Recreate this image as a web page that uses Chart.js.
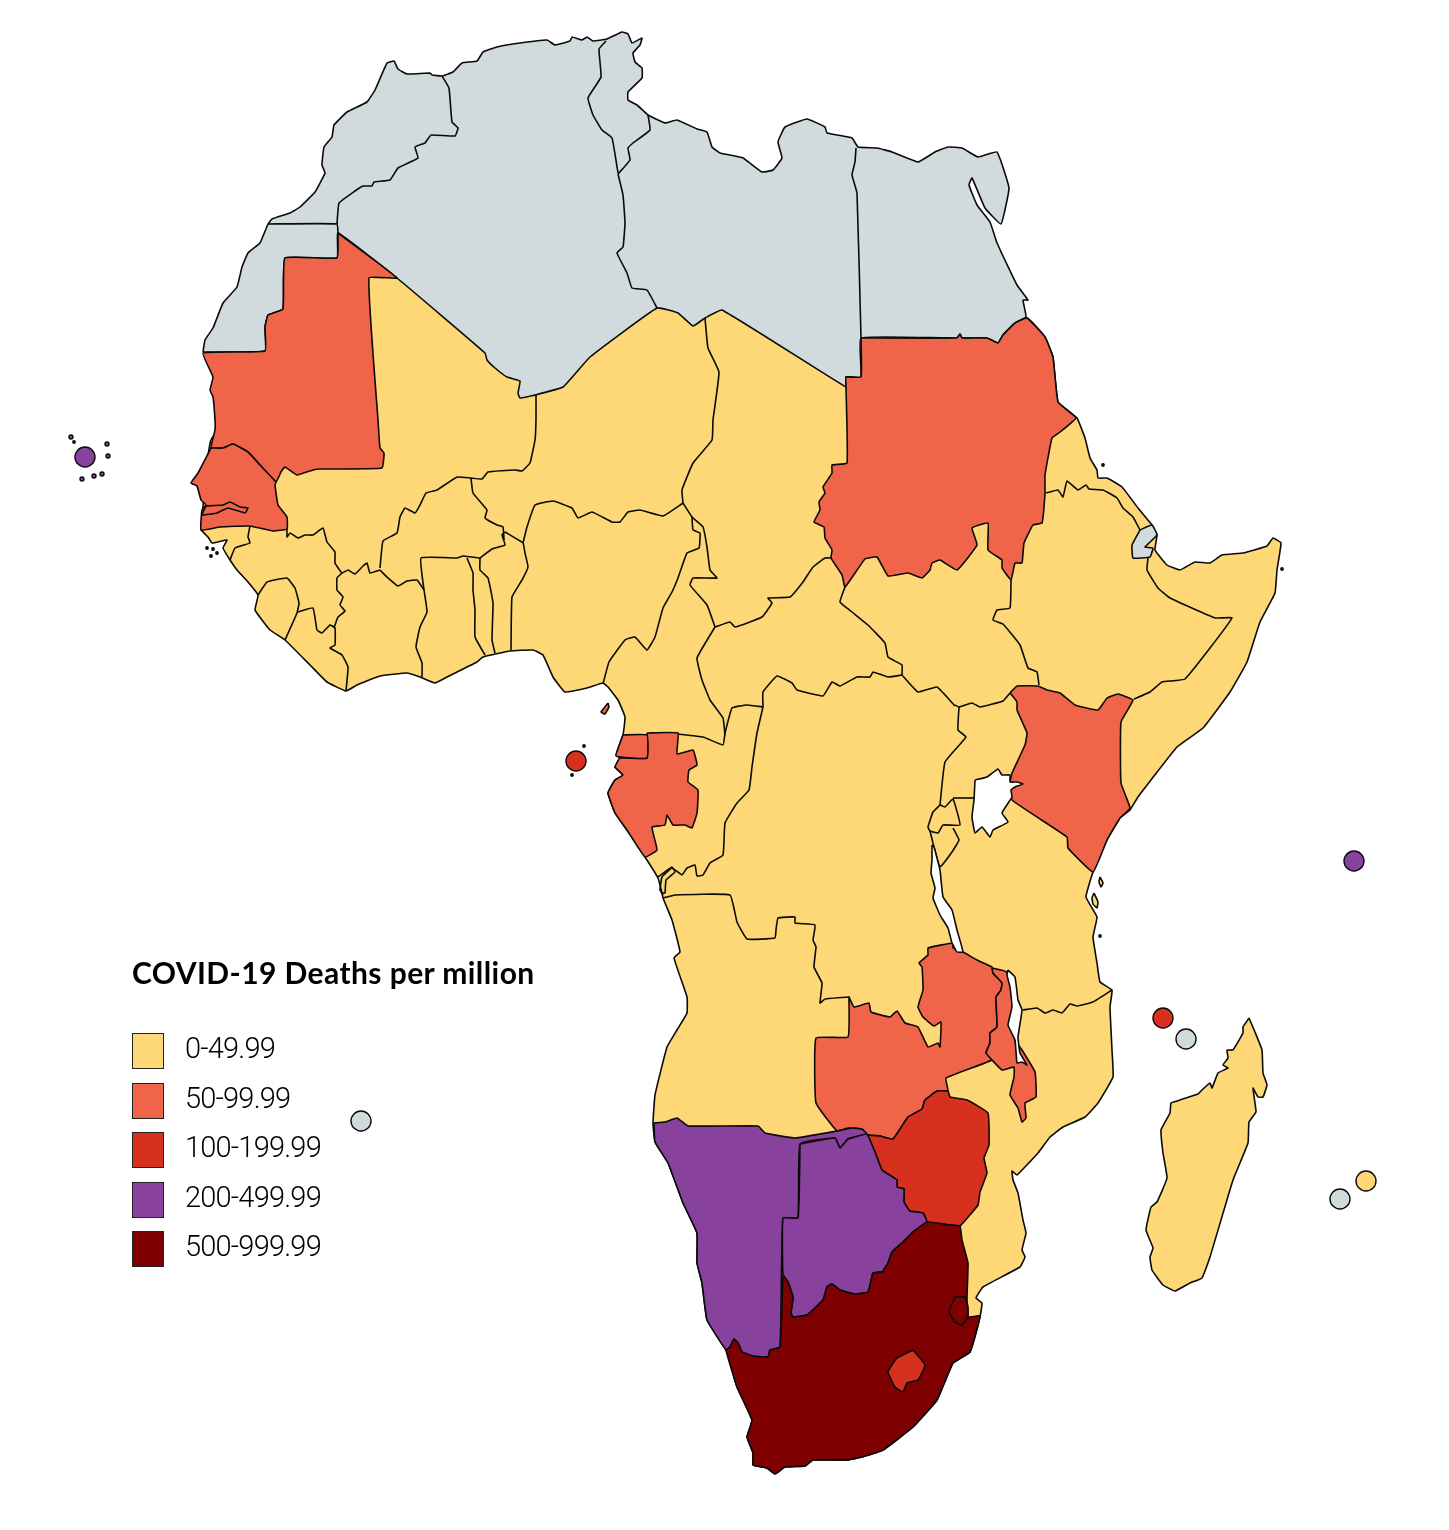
<!DOCTYPE html>
<html>
<head>
<meta charset="utf-8">
<title>COVID-19 Deaths per million</title>
<script src="https://cdn.jsdelivr.net/npm/chart.js@4"></script>
<style>
html, body { margin: 0; background: #fff; }
#wrap { position: relative; width: 1449px; height: 1530px; overflow: hidden; }
#map { position: absolute; left: 0; top: 0; }
#legend { position: absolute; left: 132px; top: 952px; color: #000; }
#legend h1 { margin: 0 0 41px; font-family: Lato, sans-serif; font-size: 30px; line-height: 40px; font-weight: 700; letter-spacing: 0.42px; white-space: nowrap; }
#legend .row { position: relative; height: 49.6px; }
#legend .box { position: absolute; left: 0; top: 0; width: 30px; height: 34px; border: 1px solid #222; }
#legend .txt { position: absolute; left: 53px; top: -3px; font-family: Roboto, sans-serif; font-size: 29px; line-height: 36px; font-weight: 300; letter-spacing: -0.8px; white-space: nowrap; }
</style>
</head>
<body>
<div id="wrap">
  <canvas id="map" width="1449" height="1530"></canvas>
  <div id="legend"></div>
</div>
<script>
// legend classes
var legendTitle = 'COVID-19 Deaths per million';
var bandLabels = ['0-49.99', '50-99.99', '100-199.99', '200-499.99', '500-999.99'];
var bandColors = ['#fed876', '#f0654a', '#d7301f', '#88419d', '#7f0000'];
var noData = '#d1dadd';

// outlines
var mainland = [[201,530],[208,537],[212,543],[227,540],[223,548],[230,560],[237,570],[248,582],[258,595],[255,610],[262,620],[270,630],[285,640],[310,665],[327,682],[346,691],[357,685],[380,676],[407,673],[420,677],[435,683],[447,677],[477,662],[483,657],[510,651],[533,650],[543,655],[553,677],[565,692],[587,688],[603,683],[608,687],[618,700],[625,717],[623,735],[616,755],[620,758],[615,767],[623,775],[615,780],[608,793],[615,813],[627,830],[645,857],[658,878],[662,893],[663,898],[672,920],[680,952],[674,958],[687,997],[687,1013],[677,1030],[667,1047],[655,1095],[653,1123],[655,1142],[668,1163],[683,1203],[697,1233],[697,1263],[702,1283],[707,1320],[726,1350],[737,1387],[752,1420],[747,1437],[753,1453],[753,1465],[767,1468],[775,1474],[785,1467],[805,1466],[813,1460],[847,1460],[862,1457],[883,1450],[913,1427],[937,1400],[953,1363],[970,1352],[980,1317],[982,1303],[976,1298],[983,1287],[1020,1267],[1025,1257],[1022,1250],[1026,1233],[1023,1220],[1018,1193],[1013,1180],[1012,1171],[1017,1175],[1038,1153],[1050,1137],[1063,1127],[1085,1117],[1098,1103],[1113,1077],[1112,1050],[1110,1007],[1112,990],[1100,982],[1097,963],[1093,937],[1097,917],[1086,897],[1093,872],[1107,840],[1120,818],[1130,810],[1138,797],[1177,747],[1203,728],[1230,692],[1247,662],[1260,622],[1275,593],[1277,570],[1281,543],[1273,538],[1267,546],[1243,553],[1222,555],[1210,563],[1195,562],[1180,570],[1167,565],[1155,550],[1157,535],[1152,525],[1138,508],[1122,487],[1107,478],[1098,478],[1097,470],[1090,458],[1085,438],[1077,418],[1058,402],[1053,357],[1045,337],[1027,318],[900,340],[830,360],[722,300],[657,300],[450,300],[350,260],[300,330],[211,440]];
var northAfrica = [[203,352],[205,340],[213,328],[223,303],[237,287],[242,267],[248,253],[260,243],[268,224],[272,219],[290,213],[300,207],[315,192],[325,173],[322,165],[324,147],[332,137],[334,125],[347,112],[367,102],[375,90],[387,63],[394,61],[398,69],[407,74],[430,73],[432,75],[442,76],[453,72],[462,63],[477,61],[483,52],[497,47],[520,43],[547,40],[555,45],[570,41],[572,37],[582,40],[587,37],[593,41],[607,39],[622,32],[628,34],[632,43],[642,38],[640,45],[633,53],[635,62],[642,68],[642,78],[628,92],[628,100],[637,105],[648,115],[665,123],[677,120],[697,129],[707,132],[712,147],[720,153],[743,158],[762,172],[773,170],[782,158],[778,142],[785,127],[807,119],[825,127],[827,133],[852,138],[858,147],[877,148],[892,152],[918,162],[935,152],[948,147],[962,148],[978,157],[997,152],[1009,188],[1001,224],[985,208],[972,178],[969,185],[977,205],[990,222],[997,243],[1017,285],[1028,300],[1023,300],[1026,317],[1015,323],[1003,335],[998,343],[987,338],[962,338],[960,334],[957,338],[861,338],[861,377],[846,377],[846,387],[722,310],[705,318],[693,326],[678,313],[657,308],[590,357],[563,387],[535,395],[520,398],[518,393],[520,381],[507,377],[495,368],[487,360],[485,353],[397,278],[338,233],[337,258],[285,258],[283,309],[268,315],[265,327],[265,351]];
var djibouti = [[1140,530],[1152,525],[1157,535],[1145,547],[1153,548],[1150,557],[1133,558],[1132,545]];
var mauritania = [[338,233],[397,278],[369,278],[378,420],[380,448],[384,453],[382,468],[320,469],[313,470],[297,475],[285,467],[281,472],[276,482],[260,465],[248,452],[233,444],[223,448],[211,448],[215,430],[215,420],[213,397],[210,390],[213,377],[203,353],[265,351],[265,327],[268,315],[283,309],[285,258],[337,258]];
var senegal = [[211,448],[198,473],[191,483],[197,486],[201,500],[206,505],[202,510],[201,530],[220,527],[250,526],[273,531],[287,529],[287,517],[278,505],[275,485],[276,482],[260,465],[248,452],[233,444],[223,448]];
var gambia = [[206,506],[223,505],[230,502],[240,507],[248,508],[245,513],[228,508],[217,513],[202,515]];
var sudan = [[861,338],[957,338],[960,334],[962,338],[987,338],[998,343],[1003,335],[1015,323],[1027,318],[1045,337],[1053,357],[1058,402],[1076,418],[1060,432],[1052,438],[1045,475],[1045,493],[1042,523],[1033,525],[1024,543],[1022,563],[1015,563],[1011,580],[1002,568],[1002,560],[988,550],[988,523],[972,528],[977,545],[957,570],[940,560],[932,563],[930,570],[922,578],[908,573],[888,576],[877,557],[865,559],[845,587],[842,575],[831,558],[832,550],[825,538],[824,527],[814,522],[820,510],[819,502],[825,493],[823,487],[832,473],[832,465],[847,463],[846,387],[846,377],[861,377]];
var kenya = [[1010,693],[1017,686],[1038,686],[1047,690],[1060,693],[1075,705],[1098,710],[1107,698],[1118,694],[1133,700],[1121,722],[1121,783],[1130,808],[1120,818],[1107,840],[1093,872],[1068,848],[1067,837],[1012,800],[1010,782],[1012,773],[1025,745],[1027,733],[1017,710],[1017,702]];
var gabon = [[647,733],[678,733],[677,754],[693,750],[697,765],[689,770],[688,782],[698,790],[697,813],[692,828],[685,825],[673,825],[667,815],[665,825],[652,827],[657,850],[645,857],[627,830],[615,813],[608,793],[615,780],[623,775],[615,767],[620,758],[647,758]];
var eqGuinea = [[623,735],[647,735],[647,758],[616,756]];
var bioko = [[608,703],[609,707],[605,714],[601,712]];
var zambia = [[849,997],[854,1007],[869,1003],[871,1012],[890,1017],[897,1011],[905,1023],[918,1027],[928,1047],[938,1043],[940,1047],[941,1022],[934,1026],[923,1017],[918,1007],[923,990],[922,967],[919,963],[928,955],[928,948],[953,943],[953,948],[963,952],[977,960],[992,967],[993,973],[1002,983],[1001,990],[996,997],[997,1027],[990,1033],[990,1043],[986,1053],[992,1060],[946,1078],[948,1091],[937,1091],[925,1100],[922,1109],[908,1117],[893,1139],[880,1136],[865,1135],[860,1129],[848,1128],[837,1131],[816,1103],[816,1038],[848,1037]];
var malawi = [[992,968],[1007,972],[1015,1000],[1015,1040],[1022,1050],[1035,1072],[1036,1097],[1025,1103],[1026,1118],[1022,1122],[1018,1108],[1010,1095],[1014,1077],[1014,1067],[1002,1070],[992,1060],[986,1053],[990,1043],[990,1033],[997,1027],[996,997],[1001,990],[1002,983],[993,973]];
var zimbabwe = [[865,1135],[880,1136],[893,1139],[908,1117],[922,1109],[925,1100],[937,1091],[948,1091],[950,1097],[967,1100],[988,1113],[989,1145],[984,1158],[987,1173],[980,1192],[978,1205],[960,1226],[950,1225],[927,1222],[923,1213],[910,1211],[904,1202],[904,1189],[897,1187],[897,1180],[882,1170],[875,1152]];
var lesotho = [[913,1350],[925,1365],[918,1380],[907,1383],[903,1392],[895,1387],[888,1372],[897,1358]];
var namibia = [[654,1123],[665,1122],[677,1118],[688,1126],[758,1126],[765,1133],[795,1138],[837,1131],[852,1128],[862,1129],[867,1134],[855,1137],[848,1139],[840,1148],[835,1138],[800,1144],[798,1218],[783,1218],[780,1347],[770,1350],[768,1357],[753,1356],[742,1352],[738,1343],[734,1339],[730,1347],[726,1350],[707,1320],[702,1283],[697,1263],[697,1233],[683,1203],[668,1163],[655,1142]];
var botswana = [[800,1144],[835,1138],[840,1148],[848,1139],[855,1137],[867,1134],[875,1152],[882,1170],[897,1180],[897,1187],[904,1189],[904,1202],[910,1211],[923,1213],[927,1222],[913,1232],[903,1242],[892,1252],[888,1263],[882,1272],[873,1273],[868,1292],[855,1294],[840,1290],[832,1284],[827,1287],[823,1300],[807,1315],[793,1317],[791,1313],[793,1297],[788,1282],[783,1275],[783,1218],[798,1218]];
var southAfrica = [[783,1275],[788,1282],[793,1297],[791,1313],[793,1317],[807,1315],[823,1300],[827,1287],[832,1284],[840,1290],[855,1294],[868,1292],[873,1273],[882,1272],[888,1263],[892,1252],[903,1242],[913,1232],[927,1222],[950,1225],[960,1226],[962,1240],[968,1263],[967,1298],[968,1317],[980,1316],[970,1352],[953,1363],[937,1400],[913,1427],[883,1450],[862,1457],[847,1460],[813,1460],[805,1466],[785,1467],[775,1474],[767,1468],[753,1465],[753,1453],[747,1437],[752,1420],[737,1387],[726,1350],[730,1347],[734,1339],[738,1343],[742,1352],[753,1356],[768,1357],[770,1350],[780,1347]];
var eswatini = [[955,1297],[965,1297],[968,1307],[968,1317],[962,1325],[955,1322],[949,1312]];
var madagascar = [[1249,1018],[1255,1032],[1262,1050],[1263,1073],[1267,1085],[1263,1097],[1258,1097],[1253,1088],[1255,1103],[1256,1112],[1249,1122],[1248,1143],[1233,1180],[1210,1257],[1202,1278],[1190,1283],[1175,1291],[1163,1285],[1152,1270],[1150,1257],[1153,1248],[1146,1230],[1151,1207],[1157,1202],[1167,1178],[1163,1153],[1161,1130],[1170,1113],[1171,1103],[1180,1100],[1198,1094],[1202,1090],[1210,1083],[1212,1088],[1218,1073],[1228,1068],[1223,1065],[1228,1058],[1227,1050],[1233,1050],[1243,1033],[1243,1027]];
var pemba = [[1100,877],[1103,883],[1101,887],[1099,882]];
var zanzibar = [[1094,893],[1098,902],[1097,908],[1093,904],[1092,898]];

// lakes
var lakeVictoria = [[975,780],[987,777],[998,769],[1002,775],[1010,775],[1010,782],[1017,782],[1023,784],[1015,787],[1011,790],[1012,797],[1002,813],[1008,822],[993,830],[990,837],[982,827],[975,833],[972,817],[974,800]];
var lakeTanganyika = [[932,845],[934,847],[940,870],[943,897],[952,910],[957,930],[963,952],[957,952],[952,943],[948,928],[940,915],[933,898],[935,888],[931,873],[932,860]];
var lakeMalawi = [[1008,970],[1015,977],[1018,1000],[1022,1010],[1018,1037],[1020,1053],[1027,1065],[1022,1062],[1017,1063],[1015,1040],[1008,1025],[1012,1007],[1010,987],[1007,975]];

// borders inside one colour
var moroccoSahara = [[268,224],[337,224],[338,233]];
var moroccoAlgeria = [[337,224],[339,203],[355,191],[363,186],[372,186],[374,182],[390,180],[398,168],[418,158],[415,147],[425,143],[431,135],[455,136],[458,128],[452,122],[449,88],[442,76]];
var algeriaTunisia = [[606,41],[599,49],[601,77],[588,98],[593,115],[602,130],[612,138],[618,173]];
var tunisiaLibya = [[648,115],[650,130],[633,143],[628,148],[630,160],[618,174]];
var algeriaLibya = [[618,174],[623,195],[625,223],[623,247],[617,253],[627,273],[632,288],[647,290],[657,308]];
var libyaEgypt = [[856,148],[855,162],[852,175],[857,193],[861,338]];
var maliNiger = [[536,395],[536,420],[535,440],[530,463],[522,471],[515,470],[488,472],[482,479],[471,478]];
var maliBurkina = [[471,478],[457,477],[437,490],[426,493],[420,505],[415,513],[405,508],[400,517],[397,533],[383,541],[380,568]];
var maliGuinea = [[380,570],[370,573],[367,563],[363,566],[355,574],[348,570],[342,573],[335,563],[335,552],[327,542],[323,528],[313,535],[305,535],[298,538],[290,533],[287,537],[287,529]];
var bissauGuinea = [[250,526],[248,537],[250,543],[235,548],[230,560]];
var sierraLeone = [[258,595],[267,582],[287,578],[295,588],[299,603],[297,613],[285,640]];
var guineaLiberia = [[298,612],[313,608],[317,630],[322,633],[330,625],[335,628],[335,645],[330,648],[342,655],[348,667],[346,691]];
var guineaIvory = [[334,628],[338,617],[345,611],[340,605],[343,597],[337,590],[337,578],[342,573]];
var ivoryBurkina = [[380,570],[387,577],[398,586],[407,581],[417,580],[424,590]];
var ivoryGhana = [[424,590],[427,612],[420,627],[416,647],[422,663],[422,677]];
var ghanaNorth = [[424,590],[421,558],[457,558],[463,556],[480,558]];
var ghanaTogo = [[467,558],[473,573],[473,590],[475,610],[475,637],[485,655]];
var togoBenin = [[480,558],[480,570],[488,578],[493,603],[492,640],[495,653]];
var beninNigeria = [[505,532],[523,543],[525,553],[528,567],[522,580],[512,597],[511,650]];
var beninNorth = [[480,558],[492,549],[505,545],[502,535],[505,532]];
var burkinaNiger = [[471,478],[473,493],[487,510],[485,518],[497,525],[503,527],[504,540]];
var nigerNigeria = [[523,543],[527,527],[535,505],[553,501],[572,508],[578,518],[592,512],[612,522],[620,522],[628,512],[640,510],[663,516],[683,503]];
var nigerChad = [[705,318],[708,348],[719,372],[713,420],[712,440],[693,463],[682,490],[683,503]];
var chadCameroon = [[683,503],[692,517],[703,527],[707,547],[710,570],[717,578],[693,578],[690,585],[707,605],[715,627]];
var nigeriaCameroon = [[692,517],[693,530],[700,533],[699,548],[687,553],[678,578],[672,592],[663,608],[655,637],[647,650],[635,637],[625,640],[609,662],[603,684]];
var chadCar = [[715,627],[730,622],[735,627],[762,617],[772,603],[768,598],[790,597],[803,582],[813,567],[825,558],[831,558]];
var carSouthSudan = [[845,587],[840,602],[852,612],[868,625],[885,643],[888,657],[902,665],[902,675]];
var carCameroon = [[715,627],[697,658],[702,680],[710,700],[723,718],[725,735]];
var carCongo = [[725,733],[732,708],[747,705],[763,707]];
var carDrc = [[763,707],[763,692],[777,676],[792,683],[797,690],[823,696],[832,682],[840,686],[857,677],[870,677],[873,672],[888,677],[902,675]];
var cameroonCongo = [[678,734],[703,737],[723,745],[725,733]];
var congoDrc = [[763,707],[757,733],[752,767],[749,790],[737,803],[725,823],[723,855],[710,863],[703,875],[697,876],[695,865],[687,868],[682,875],[672,868],[662,877],[660,890],[663,895]];
var cabinda = [[658,877],[672,867],[675,872],[666,880],[665,893],[662,893]];
var angolaDrc = [[663,898],[675,895],[730,895],[737,922],[747,939],[775,938],[776,930],[778,918],[795,917],[795,923],[815,925],[813,940],[816,947],[814,967],[822,983],[820,1003],[825,999],[850,997]];
var southSudanDrc = [[902,675],[918,692],[937,687],[955,706]];
var southSudanUganda = [[955,705],[959,707],[972,703],[980,707],[1003,701],[1010,693]];
var ugandaDrc = [[959,707],[958,730],[966,737],[945,762],[940,805]];
var ugandaTanzania = [[953,798],[974,798]];
var rwanda = [[940,805],[945,807],[953,799],[960,825],[943,825],[938,833],[930,831],[928,827],[933,812],[940,805]];
var burundi = [[930,831],[933,843],[940,867],[952,852],[959,840],[953,828]];
var tanzaniaMozambique = [[1112,990],[1093,1002],[1077,1006],[1070,1004],[1062,1013],[1053,1010],[1045,1013],[1037,1008],[1023,1010]];
var southSudanEthiopia = [[1011,580],[1010,608],[997,610],[993,620],[1003,624],[1020,645],[1028,668],[1037,672],[1039,685]];
var ethiopiaSomalia = [[1134,699],[1150,692],[1162,682],[1185,679],[1232,618],[1215,618],[1170,598],[1158,588],[1147,570],[1148,558]];
var ethiopiaEritrea = [[1046,493],[1058,490],[1063,497],[1067,481],[1078,490],[1086,485],[1089,489],[1103,490],[1117,498],[1123,508],[1133,517],[1140,530]];

// small territories as round markers: x, y
var roundNoData = [[361,1121],[1186,1039],[1340,1199]];
var round0 = [[1366,1181]];
var round100 = [[576,761],[1163,1018]];
var round200 = [[85,457],[1354,861]];
// islets
var islets200 = [[71,437],[107,444],[108,456],[102,474],[94,476],[82,479]];
var isletsDark = [[74,442],[207,548],[213,549],[217,553],[211,556],[584,746],[572,775],[1103,465],[1282,569],[1100,936]];

var bands = {
    yellow: [mainland, madagascar, pemba, zanzibar],
    orange: [mauritania, senegal, gambia, sudan, kenya, gabon, eqGuinea, bioko, zambia, malawi],
    red: [zimbabwe],
    purple: [namibia, botswana],
    dark: [southAfrica, eswatini]
};
var lakes = [lakeVictoria, lakeTanganyika, lakeMalawi];
var borderLines = [moroccoSahara, moroccoAlgeria, algeriaTunisia, tunisiaLibya, algeriaLibya, libyaEgypt, maliNiger, maliBurkina, maliGuinea, bissauGuinea, sierraLeone, guineaLiberia, guineaIvory, ivoryBurkina, ivoryGhana, ghanaNorth, ghanaTogo, togoBenin, beninNigeria, beninNorth, burkinaNiger, nigerNigeria, nigerChad, chadCameroon, nigeriaCameroon, chadCar, carSouthSudan, carCameroon, carCongo, carDrc, cameroonCongo, congoDrc, cabinda, angolaDrc, southSudanDrc, southSudanUganda, ugandaDrc, ugandaTanzania, rwanda, burundi, tanzaniaMozambique, southSudanEthiopia, ethiopiaSomalia, ethiopiaEritrea];

function toXY(list) {
    return list.map(function (p) { return { x: p[0], y: p[1] }; });
}

function polygon(list, color) {
    return {
        data: toXY(list.concat([list[0]])),
        showLine: true, fill: 'shape', backgroundColor: color,
        borderColor: '#0a0a0a', borderWidth: 1.6, pointRadius: 0, tension: 0.1, borderJoinStyle: 'round'
    };
}

function border(list) {
    return {
        data: toXY(list),
        showLine: true, fill: false,
        borderColor: '#0a0a0a', borderWidth: 1.6, pointRadius: 0, tension: 0.1, borderJoinStyle: 'round'
    };
}

function markers(list, color, radius) {
    return {
        data: toXY(list), showLine: false, backgroundColor: color,
        borderColor: '#0a0a0a', borderWidth: 1.4, pointRadius: radius, pointStyle: 'circle'
    };
}

// draw order: first in this list is painted first
var layers = [];
bands.yellow.forEach(function (c) { layers.push(polygon(c, bandColors[0])); });
layers.push(polygon(northAfrica, noData));
layers.push(polygon(djibouti, noData));
bands.orange.forEach(function (c) { layers.push(polygon(c, bandColors[1])); });
bands.red.forEach(function (c) { layers.push(polygon(c, bandColors[2])); });
bands.purple.forEach(function (c) { layers.push(polygon(c, bandColors[3])); });
bands.dark.forEach(function (c) { layers.push(polygon(c, bandColors[4])); });
layers.push(polygon(lesotho, bandColors[2]));
borderLines.forEach(function (b) { layers.push(border(b)); });
lakes.forEach(function (l) { layers.push(polygon(l, '#ffffff')); });
layers.push(markers(roundNoData, noData, 10));
layers.push(markers(round0, bandColors[0], 10));
layers.push(markers(round100, bandColors[2], 10));
layers.push(markers(round200, bandColors[3], 10));
layers.push(markers(islets200, bandColors[3], 2));
layers.push(markers(isletsDark, '#0a0a0a', 1.2));
layers.forEach(function (d, i) { d.order = layers.length - i; });

new Chart(document.getElementById('map'), {
    type: 'scatter',
    data: { datasets: layers },
    options: {
        responsive: false,
        animation: false,
        layout: { padding: 0, autoPadding: false },
        scales: {
            x: { type: 'linear', display: false, min: 0, max: 1449 },
            y: { type: 'linear', display: false, min: 0, max: 1530, reverse: true }
        },
        plugins: { legend: { display: false }, tooltip: { enabled: false } }
    }
});

// legend
var legendEl = document.getElementById('legend');
var titleEl = document.createElement('h1');
titleEl.textContent = legendTitle;
legendEl.appendChild(titleEl);
bandLabels.forEach(function (label, i) {
    var row = document.createElement('div');
    row.className = 'row';
    var box = document.createElement('div');
    box.className = 'box';
    box.style.background = bandColors[i];
    var txt = document.createElement('div');
    txt.className = 'txt';
    txt.textContent = label;
    row.appendChild(box);
    row.appendChild(txt);
    legendEl.appendChild(row);
});
</script>
</body>
</html>
